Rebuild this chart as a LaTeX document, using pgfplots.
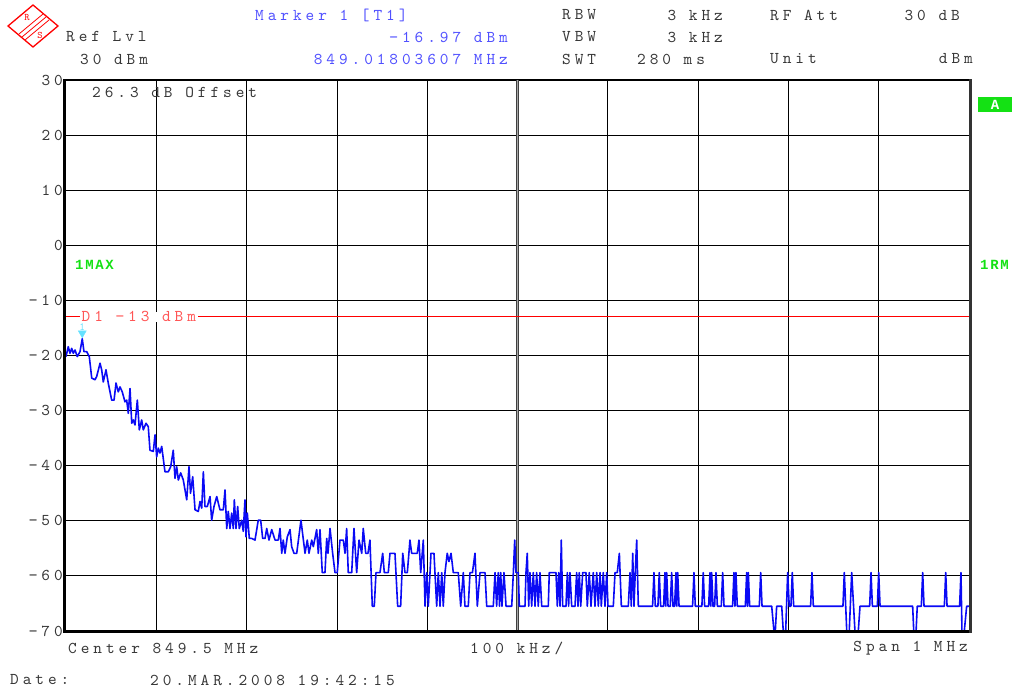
\documentclass[border=0pt]{standalone}
\usepackage{fontspec}
\usepackage{pgfplots}
\pgfplotsset{compat=1.18}
\newfontfamily\rsmono[LetterSpace=24]{lmmono10-regular.otf}
\newcommand\rsf{\fontsize{16.5}{18}\selectfont\rsmono}
\newcommand\rssm{\fontsize{11}{12}\selectfont\ttfamily}
\newfontfamily\rsb[LetterSpace=12]{Liberation Mono}
\newcommand\rsbf{\fontsize{14}{16}\selectfont\rsb\bfseries}
\definecolor{rsblue}{RGB}{80,80,255}
\definecolor{rstext}{RGB}{55,55,55}
\definecolor{rsred}{RGB}{255,85,85}
\definecolor{rsgreen}{RGB}{20,225,20}
\definecolor{trace}{RGB}{10,10,245}
\definecolor{mk}{RGB}{100,225,255}
\begin{document}
\begin{tikzpicture}[x=1pt,y=1pt]
\path[use as bounding box] (0,0) rectangle (1015,688);
\begin{axis}[at={(66pt,57pt)}, anchor=south west, scale only axis,
  width=903pt, height=551pt,
  xmin=0, xmax=1000, ymin=-70, ymax=30,
  xtick={100,200,...,900}, xticklabels={},
  ytick={-70,-60,...,30},
  yticklabels={−70,−60,−50,−40,−30,−20,−10,0,10,20,30},
  grid=major, major grid style={black, line width=0.8pt},
  major tick length=0pt, axis line style={draw=none},
  yticklabel style={font=\rsf, text=rstext, anchor=east, inner sep=0pt, xshift=-3pt},
  clip=false]
\draw[line width=2.4pt, black!75] (axis cs:500,-70) -- (axis cs:500,30);
\draw[line width=0.8pt, black!35] (axis cs:500,-70) -- (axis cs:500,30);
\addplot[red, line width=1pt] coordinates {(0,-13) (1000,-13)};
\node[anchor=west, fill=white, inner xsep=1.5pt, inner ysep=0pt, text height=9.5pt, text depth=0pt, text=rsred, font=\rsf] at (axis cs:15.5,-13) {D1 −13 dBm};
\addplot[trace, line width=1.6pt, line join=round] coordinates {
(0,-20.2)(2.5,-18.4)(4.4,-19.6)(6.3,-18.7)(8.1,-19.6)(10.0,-19.0)(12.5,-20.2)(15.5,-19.3)(18.0,-16.97)(19.9,-19.3)(22.9,-19.3)(25.8,-20.2)(28.5,-24.1)(32.1,-24.4)(34.0,-23.8)(37.7,-21.4)(39.5,-22.6)(41.3,-24.8)(44.3,-22.6)(46.8,-25.0)(50.6,-28.1)(53.2,-28.1)(55.4,-25.0)(57.9,-26.6)(59.8,-25.7)(62.3,-26.6)(65.3,-28.4)(67.2,-28.1)(69.0,-30.5)(70.9,-26.0)(72.8,-32.3)(74.5,-31.7)(76.4,-32.6)(79.0,-28.1)(81.2,-33.5)(83.8,-31.7)(85.6,-33.5)(88.6,-32.3)(91.1,-32.9)(93.0,-37.2)(96.7,-37.4)(98.6,-34.4)(100.4,-38.4)(102.2,-36.8)(104.1,-37.7)(106.0,-36.5)(109.6,-41.1)(113.3,-41.1)(115.9,-40.2)(118.8,-37.2)(120.7,-42.3)(122.6,-40.2)(124.4,-42.6)(127.0,-41.3)(129.9,-42.6)(133.7,-46.2)(136.2,-40.2)(137.9,-45.0)
(140.3,-42.0)(142.9,-48.0)(146.5,-48.3)(148.4,-46.5)(150.3,-47.7)(152.1,-41.1)(153.9,-47.4)(156.5,-47.4)(159.5,-45.6)(161.3,-49.9)(163.9,-47.4)(166.9,-45.6)(170.5,-48.0)(174.2,-48.0)(176.1,-44.4)(178.0,-51.4)(179.7,-48.3)(181.6,-51.4)(183.5,-48.6)(185.3,-51.4)(186.4,-46.2)(188.3,-51.4)(190.1,-47.4)(191.9,-51.4)(194.6,-49.9)(196.3,-51.9)(198.2,-46.2)(199.3,-52.9)(200.8,-48.6)(203.0,-53.2)(205.6,-53.2)(209.3,-53.5)(212.9,-49.9)(215.6,-49.9)(217.8,-53.2)(220.4,-53.2)(222.3,-51.4)(224.8,-53.5)(227.8,-51.6)(231.5,-53.5)(235.1,-53.5)(237.0,-51.4)(238.9,-55.9)(240.6,-53.5)(242.5,-55.9)(245.1,-52.9)(248.1,-51.6)(249.9,-54.7)(252.5,-55.9)(255.5,-55.9)(260.2,-49.9)(264.7,-55.9)(267.2,-53.5)(269.1,-55.9)(272.1,-53.5)(273.9,-54.7)(277.6,-51.6)(279.4,-55.9)(281.3,-51.6)(283.8,-59.4)(286.8,-59.4)(288.7,-53.2)(290.1,-55.9)(292.4,-51.4)(295.3,-55.9)(297.9,-59.4)(300.4,-59.4)
(303.4,-53.5)(307.1,-53.5)(309.0,-55.9)(310.8,-51.4)(312.6,-59.4)(316.4,-59.4)(318.9,-51.4)(321.9,-59.4)(324.5,-53.5)(327.5,-55.9)(329.2,-51.4)(331.9,-55.9)(334.4,-55.9)(336.6,-53.5)(339.2,-65.5)(341.4,-65.5)(343.3,-59.4)(347.7,-59.4)(350.7,-55.9)(352.5,-59.4)(356.9,-59.4)(358.8,-55.9)(364.3,-55.9)(367.3,-65.5)(370.6,-65.5)(372.9,-55.9)(375.4,-59.4)(378.0,-59.4)(380.9,-53.5)(382.8,-55.9)(389.0,-55.9)(390.9,-53.5)(392.8,-59.4)(395.7,-53.5)(397.6,-65.5)(399.5,-59.4)(401.2,-65.5)(404.2,-55.9)(407.5,-55.9)(410.5,-65.5)(412.3,-59.4)(414.2,-65.5)(416.1,-59.4)(417.8,-65.5)(419.7,-59.4)(422.2,-55.9)(424.1,-57.4)(426.4,-55.9)(428.9,-59.4)(434.4,-59.4)(437.1,-65.5)(440.0,-59.4)(441.8,-65.5)(445.5,-65.5)(447.4,-59.4)(450.1,-59.4)(452.9,-55.9)(455.5,-65.5)(458.5,-59.4)
(464.0,-59.4)(465.9,-65.5)(473.2,-65.5)(475.1,-59.4)(476.9,-65.5)(478.7,-59.4)(480.1,-65.5)(481.4,-59.4)(482.8,-65.5)(485.0,-59.4)(487.3,-65.5)(493.6,-65.5)(495.4,-59.4)(496.9,-53.5)(498.3,-59.4)(500.9,-59.4)(502.0,-65.5)(508.3,-65.5)(509.4,-59.4)(510.8,-55.9)(512.4,-65.5)(513.8,-59.4)(515.7,-65.5)(517.5,-59.4)(519.4,-65.5)(521.2,-59.4)(523.0,-65.5)(524.9,-59.4)(526.8,-65.5)(534.1,-65.5)(535.2,-59.4)(542.6,-59.4)(544.1,-65.5)(545.6,-59.4)(547.1,-65.5)(548.5,-53.5)(550.0,-65.5)(553.7,-65.5)(555.2,-59.4)(556.6,-65.5)(558.1,-59.4)(560.0,-65.5)(563.7,-65.5)(565.5,-59.4)(567.0,-65.5)(568.4,-59.4)(570.0,-65.5)(572.2,-59.4)(575.8,-59.4)(577.3,-65.5)(579.5,-59.4)(581.4,-65.5)(583.9,-59.4)(585.8,-65.5)(587.7,-59.4)(589.5,-65.5)(591.4,-59.4)(592.8,-65.5)(595.0,-59.4)(596.9,-65.5)(598.8,-59.4)(600.2,-65.5)(606.1,-65.5)(608.0,-59.4)(610.5,-59.4)(612.8,-55.9)(615.0,-65.5)(622.7,-65.5)(624.6,-59.4)(626.0,-65.5)(627.6,-55.9)(629.0,-65.5)(630.4,-59.4)(632.0,-53.5)(633.8,-65.5)
(649.6,-65.5)(651.1,-59.4)(652.6,-65.5)(655.5,-65.5)(657.0,-59.4)(658.5,-65.5)(661.8,-65.5)(663.3,-59.4)(664.2,-65.5)(665.2,-59.4)(666.7,-65.5)(669.2,-65.5)(670.7,-59.4)(672.2,-65.5)(674.0,-65.5)(675.5,-59.4)(676.4,-65.5)(677.4,-59.4)(678.9,-65.5)(693.9,-65.5)(695.4,-59.4)(696.9,-65.5)(704.2,-65.5)(705.7,-59.4)(707.2,-65.5)(711.7,-65.5)(713.2,-59.4)(714.1,-65.5)(715.0,-59.4)(716.5,-65.5)(718.3,-65.5)(719.8,-59.4)(721.3,-65.5)(725.7,-65.5)(727.2,-59.4)(728.7,-65.5)(738.2,-65.5)(739.7,-59.4)(740.8,-65.5)(741.9,-59.4)(743.4,-65.5)(752.3,-65.5)(753.8,-59.4)(754.7,-65.5)(755.6,-59.4)(757.1,-65.5)(767.8,-65.5)(769.3,-59.4)(770.8,-65.5)
(781.5,-65.5)(784.0,-70)(785.5,-70)(787.0,-65.5)(792.6,-65.5)(794.3,-70)(797.0,-70)(799.2,-59.4)(800.9,-65.5)(802.8,-65.5)(804.3,-59.4)(805.8,-65.5)
(824.6,-65.5)(826.1,-59.4)(827.6,-65.5)(860.4,-65.5)(861.9,-59.4)(864.6,-70)(867.4,-70)(870.1,-59.4)(873.7,-70)(877.4,-70)(879.3,-65.5)(890.0,-65.5)(891.5,-59.4)(893.0,-65.5)(898.5,-65.5)(900.0,-59.4)(901.5,-65.5)(937.6,-65.5)(938.8,-70)(941.4,-70)(942.7,-65.5)(947.2,-65.5)(948.7,-59.4)(950.2,-65.5)(972.7,-65.5)(974.2,-59.4)(975.7,-65.5)(989.6,-65.5)(991.1,-59.4)(992.2,-70)(994.8,-70)(997.4,-65.5)(1000,-65.5)
};
\addplot[only marks, mark=triangle*, mark size=4.7pt, color=mk, every mark/.append style={yshift=5.7pt, rotate=180}] coordinates {(18.0,-16.97)};
\node[text=mk, font=\rssm, inner sep=0pt] at (axis cs:18.0,-16.97) [yshift=11.5pt] {1};
\end{axis}
% frame
\draw[line width=1pt] (66,608) -- (969,608);
\draw[line width=3pt] (64.5,55) -- (64.5,608.5);
\draw[line width=3pt] (63,56.5) -- (970,56.5);
\draw[line width=3pt, black!80] (970.5,55) -- (970.5,608.5);
% header
\begin{scope}[every node/.style={font=\rsf, inner sep=0pt, text=rstext}]
\node[anchor=west, text=rsblue] at (255,673) {Marker 1 [T1]};
\node[anchor=west] at (562,673) {RBW};
\node[anchor=east] at (723,673) {3 kHz};
\node[anchor=west] at (770,673) {RF Att};
\node[anchor=east] at (960,673) {30 dB};
\node[anchor=west] at (66,651) {Ref Lvl};
\node[anchor=east, text=rsblue] at (508,651) {−16.97 dBm};
\node[anchor=west] at (562,651) {VBW};
\node[anchor=east] at (723,651) {3 kHz};
\node[anchor=west] at (80,629) {30 dBm};
\node[anchor=east, text=rsblue] at (508,629) {849.01803607 MHz};
\node[anchor=west] at (562,629) {SWT};
\node[anchor=west] at (637,629) {280 ms};
\node[anchor=west] at (770,629) {Unit};
\node[anchor=east] at (973,629) {dBm};
\node[anchor=west] at (92,596) {26.3 dB Offset};
\node[anchor=west] at (68,40) {Center 849.5 MHz};
\node[anchor=west] at (470,40) {100 kHz/};
\node[anchor=east] at (968,40) {Span 1 MHz};
\node[anchor=west] at (10,8) {Date:};
\node[anchor=west] at (150,8) {20.MAR.2008  19:42:15};
\end{scope}
\node[anchor=west, font=\rsbf, text=rsgreen, inner sep=0pt] at (75,423) {1MAX};
\node[anchor=west, font=\rsbf, text=rsgreen, inner sep=0pt] at (980,423) {1RM};
\node[fill=rsgreen, text=white, font=\rsbf, inner sep=0pt, minimum width=34pt, minimum height=15pt] at (995,583.5) {A};
% R&S logo
\begin{scope}[shift={(33,662)}, red, line width=1.3pt]
\draw (0,21) -- (25,0) -- (0,-21) -- (-25,0) -- cycle;
\draw[line width=0.8pt] (13,9) -- (-11,-11);
\draw[line width=0.8pt] (16,6) -- (-8,-14);
\draw[line width=0.8pt] (10,12) -- (-14,-8);
\node[font=\fontsize{10}{10}\selectfont\ttfamily, inner sep=0pt] at (-6,8) {R};
\node[font=\fontsize{10}{10}\selectfont\ttfamily, inner sep=0pt] at (7,-9) {S};
\end{scope}
\end{tikzpicture}
\end{document}
